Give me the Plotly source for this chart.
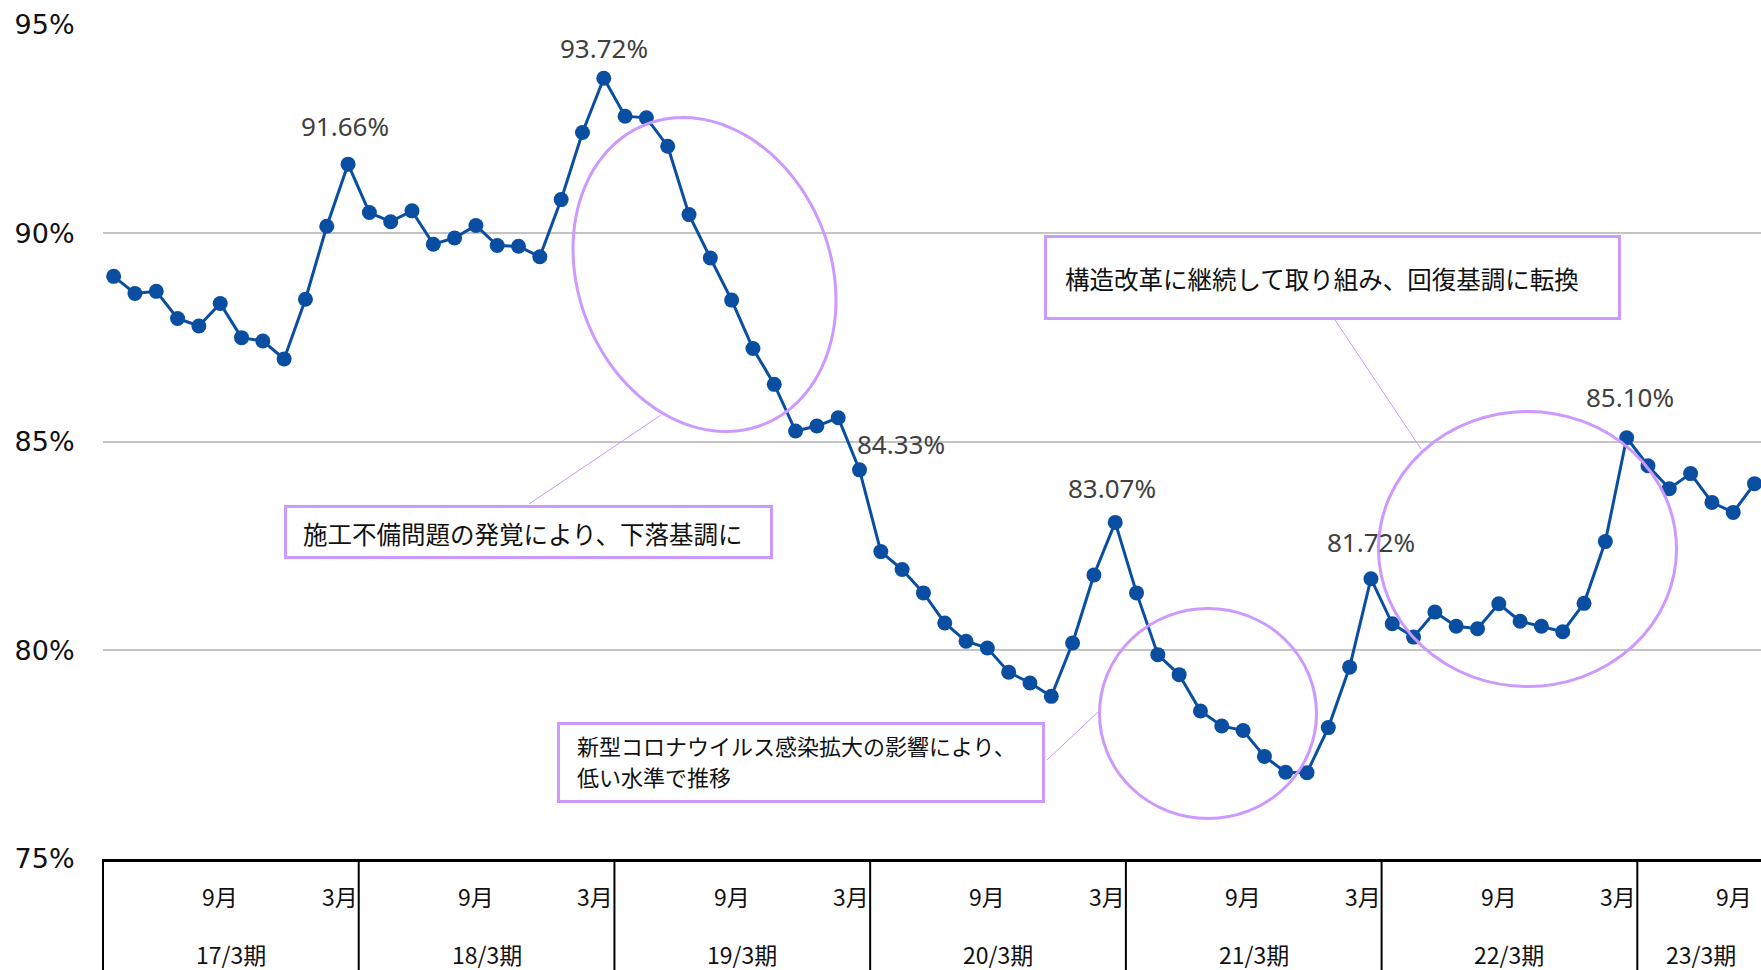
import numpy as np
import plotly.graph_objects as go

# ---------------- data ----------------
fiscal_periods = ["17/3期", "18/3期", "19/3期", "20/3期", "21/3期", "22/3期", "23/3期"]
label_sep = "9月"
label_mar = "3月"

fy2016 = [88.97, 88.56, 88.61, 87.96, 87.78, 88.32, 87.50, 87.42, 86.99, 88.42, 90.17, 91.66]
fy2017 = [90.50, 90.28, 90.54, 89.74, 89.89, 90.19, 89.71, 89.69, 89.44, 90.81, 92.42, 93.72]
fy2018 = [92.81, 92.77, 92.09, 90.45, 89.41, 88.40, 87.24, 86.38, 85.26, 85.38, 85.58, 84.33]
fy2019 = [82.37, 81.94, 81.38, 80.66, 80.22, 80.06, 79.48, 79.22, 78.90, 80.18, 81.81, 83.07]
fy2020 = [81.38, 79.90, 79.42, 78.55, 78.19, 78.08, 77.46, 77.08, 77.07, 78.15, 79.60, 81.72]
fy2021 = [80.64, 80.32, 80.92, 80.58, 80.52, 81.12, 80.70, 80.58, 80.45, 81.13, 82.61, 85.10]
fy2022 = [84.43, 83.88, 84.24, 83.55, 83.31, 84.00]

occupancy = fy2016 + fy2017 + fy2018 + fy2019 + fy2020 + fy2021 + fy2022
month_idx = list(range(len(occupancy)))

labeled_points = [11, 23, 35, 47, 59, 71]

y_ticks = [75, 80, 85, 90, 95]
y_ticktext = ["75%", "80%", "85%", "90%", "95%"]

note_fall = "施工不備問題の発覚により、下落基調に"
note_covid_1 = "新型コロナウイルス感染拡大の影響により、"
note_covid_2 = "低い水準で推移"
note_recover = "構造改革に継続して取り組み、回復基調に転換"

# ---------------- layout constants ----------------
W, H = 1761, 970
ML, MT, MB, MR = 103, 24, 111, 0
X_PER = 21.31
XR = [-0.5, -0.5 + (W - ML - MR) / X_PER]
YR = [75, 95.02]
PLOT_H = H - MT - MB
Y_PER = PLOT_H / (YR[1] - YR[0])

BLUE = "#0A4EA2"
PURPLE = "#CC99FF"
JP = "Noto Sans CJK JP"


def dx(px):
    return (px - ML) / X_PER - 0.5


def dy(py):
    return YR[1] - (py - MT) / Y_PER


def paper_x(xv):
    return (xv - XR[0]) / (XR[1] - XR[0])


def paper_y(py):
    return (H - MB - py) / PLOT_H


fig = go.Figure()
fig.add_trace(go.Scatter(
    x=month_idx, y=occupancy, mode="lines+markers",
    line=dict(color=BLUE, width=3),
    marker=dict(color=BLUE, size=15),
    hoverinfo="skip", showlegend=False,
))

shapes = []
annotations = []

# ellipses
t = np.linspace(0, 2 * np.pi, 121)
ex = 704.5 + 131.5 * np.cos(t)
ey = 274.5 + 25.67 * np.cos(t) + 154.9 * np.sin(t)
path = "M " + " L ".join(f"{dx(a):.4f},{dy(b):.4f}" for a, b in zip(ex, ey)) + " Z"
shapes.append(dict(type="path", path=path, xref="x", yref="y",
                   line=dict(color=PURPLE, width=3), layer="above"))
shapes.append(dict(type="circle", xref="x", yref="y", x0=dx(1099.5), x1=dx(1316.5),
                   y0=dy(818.5), y1=dy(608.5), line=dict(color=PURPLE, width=3), layer="above"))
shapes.append(dict(type="circle", xref="x", yref="y", x0=dx(1378.5), x1=dx(1676.5),
                   y0=dy(686.5), y1=dy(411.5), line=dict(color=PURPLE, width=3), layer="above"))

# connector lines
for (x0, y0, x1, y1) in [(529, 504, 661, 415), (1047, 760, 1098, 712), (1335, 320, 1421, 449)]:
    shapes.append(dict(type="line", xref="x", yref="y", x0=dx(x0), y0=dy(y0), x1=dx(x1), y1=dy(y1),
                       line=dict(color=PURPLE, width=1), layer="above"))

# boxes
for (x0, y0, x1, y1) in [(285.5, 506.5, 771.5, 557.5), (558.5, 723.5, 1043.5, 801.5), (1045.5, 236.5, 1619.5, 318.5)]:
    shapes.append(dict(type="rect", xref="x", yref="y", x0=dx(x0), y0=dy(y0), x1=dx(x1), y1=dy(y1),
                       line=dict(color=PURPLE, width=3), fillcolor="white", layer="above"))

# box texts
annotations.append(dict(x=dx(301), y=dy(533), xref="x", yref="y", text=note_fall, showarrow=False,
                        xanchor="left", yanchor="middle", font=dict(family=JP, size=24.5, color="#111")))
annotations.append(dict(x=dx(575), y=dy(745), xref="x", yref="y", text=note_covid_1, showarrow=False,
                        xanchor="left", yanchor="middle", font=dict(family=JP, size=22, color="#111")))
annotations.append(dict(x=dx(575), y=dy(776), xref="x", yref="y", text=note_covid_2, showarrow=False,
                        xanchor="left", yanchor="middle", font=dict(family=JP, size=22, color="#111")))
annotations.append(dict(x=dx(1063), y=dy(278), xref="x", yref="y", text=note_recover, showarrow=False,
                        xanchor="left", yanchor="middle", font=dict(family=JP, size=24.5, color="#111")))

# data labels
label_shift = {11: (-3, 38), 23: (0, 30), 35: (-5, 26), 47: (-3, 34), 59: (0, 37), 71: (3, 41)}
for i in labeled_points:
    xs, ys = label_shift[i]
    anchor = "left" if i == 35 else "center"
    annotations.append(dict(x=i, y=occupancy[i], xref="x", yref="y", text=f"{occupancy[i]:.2f}%",
                            showarrow=False, xanchor=anchor, yanchor="middle", xshift=xs, yshift=ys,
                            font=dict(family="Noto Sans", size=26, color="#404040")))

# category axis: separators and labels
n = len(occupancy)
for k, fy in enumerate(fiscal_periods):
    start = 12 * k - 0.5
    end = min(12 * k + 11.5, n - 0.5)
    shapes.append(dict(type="line", xref="paper", yref="paper", x0=paper_x(start), x1=paper_x(start),
                       y0=0, y1=-0.2, line=dict(color="black", width=2)))
    sep_i = 12 * k + 5
    if sep_i < n:
        last = sep_i + 0.5 > XR[1]
        annotations.append(dict(x=min(sep_i, XR[1]) if last else sep_i, y=paper_y(896), xref="x", yref="paper",
                                text=label_sep, showarrow=False,
                                xanchor="right" if last else "center", yanchor="middle",
                                xshift=-1 if last else 0,
                                font=dict(family=JP, size=23, color="#111")))
    mar_i = 12 * k + 11
    if mar_i < n:
        annotations.append(dict(x=mar_i + 0.5, y=paper_y(896), xref="x", yref="paper", text=label_mar,
                                showarrow=False, xanchor="right", yanchor="middle", xshift=1,
                                font=dict(family=JP, size=23, color="#111")))
    annotations.append(dict(x=(start + end) / 2, y=paper_y(954), xref="x", yref="paper", text=fy,
                            showarrow=False, xanchor="center", yanchor="middle",
                            font=dict(family=JP, size=23, color="#111")))

fig.update_layout(
    width=W, height=H,
    margin=dict(l=ML, r=MR, t=MT, b=MB, pad=0),
    paper_bgcolor="white", plot_bgcolor="white",
    shapes=shapes, annotations=annotations,
    xaxis=dict(range=XR, showgrid=False, zeroline=False, showticklabels=False, ticks="",
               showline=True, linecolor="black", linewidth=3),
    yaxis=dict(range=YR, tickvals=y_ticks, ticktext=y_ticktext, showgrid=True, gridcolor="#C4C4C4",
               gridwidth=2, zeroline=False, showline=False, ticks="outside", ticklen=22,
               tickcolor="rgba(0,0,0,0)", tickfont=dict(family="DejaVu Sans", size=27, color="#111")),
    showlegend=False,
)

fig.write_html("out.html")
